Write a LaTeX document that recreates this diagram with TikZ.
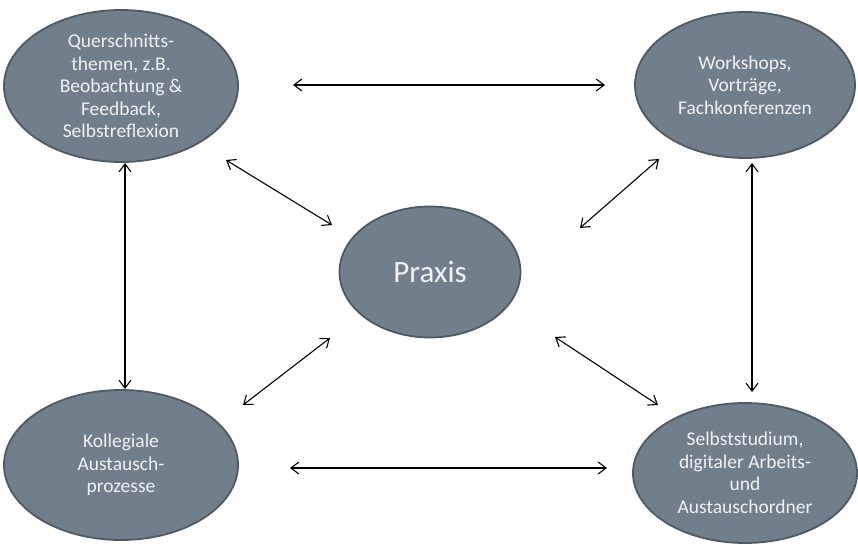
\documentclass[tikz,border=0pt]{standalone}
\usepackage{fontspec}
\setmainfont{Carlito}
\usetikzlibrary{arrows.meta,shapes.geometric}
\definecolor{ellfill}{HTML}{717F8D}
\definecolor{elldraw}{HTML}{4E5A66}
\definecolor{elltext}{HTML}{F0F2F4}
\tikzset{
  blob/.style={ellipse, fill=ellfill, draw=elldraw, line width=1.8pt, text=elltext,
    inner sep=0pt, align=center, font=\fontsize{19.5}{22.5}\selectfont},
  link/.style={{Straight Barb[length=8pt,width=12pt]}-{Straight Barb[length=8pt,width=12pt]}, line width=1.1pt, black}
}
\begin{document}
\begin{tikzpicture}[x=1pt,y=-1pt]
\useasboundingbox (0,0) rectangle (858,545);
\node[blob, minimum width=234pt, minimum height=152pt] (tl) at (121,86)
  {Querschnitts-\\themen, z.B.\\Beobachtung \&\\Feedback,\\Selbstreflexion};
\node[blob, minimum width=220pt, minimum height=146pt] (tr) at (745,85)
  {Workshops,\\Vorträge,\\Fachkonferenzen};
\node[blob, minimum width=181pt, minimum height=131pt, font=\fontsize{31}{34}\selectfont] (pr) at (430,272)
  {Praxis};
\node[blob, minimum width=234pt, minimum height=150pt] (bl) at (121,465)
  {Kollegiale\\Austausch-\\prozesse};
\node[blob, minimum width=224pt, minimum height=140pt] (br) at (745,473)
  {Selbststudium,\\digitaler Arbeits-\\und\\Austauschordner};
% arrow end points
\coordinate (a1) at (293,85);  \coordinate (a2) at (605,85);
\coordinate (b1) at (290,468); \coordinate (b2) at (607,468);
\coordinate (c1) at (125,163); \coordinate (c2) at (125,389);
\coordinate (d1) at (752,163); \coordinate (d2) at (752,392);
\coordinate (e1) at (226,160); \coordinate (e2) at (332,225);
\coordinate (f1) at (659,159); \coordinate (f2) at (580,228);
\coordinate (g1) at (243,405); \coordinate (g2) at (330,338);
\coordinate (h1) at (555,337); \coordinate (h2) at (658,405);
\draw[link] (a1) -- (a2);
\draw[link] (b1) -- (b2);
\draw[link] (c1) -- (c2);
\draw[link] (d1) -- (d2);
\draw[link] (e1) -- (e2);
\draw[link] (f1) -- (f2);
\draw[link] (g1) -- (g2);
\draw[link] (h1) -- (h2);
\end{tikzpicture}
\end{document}
